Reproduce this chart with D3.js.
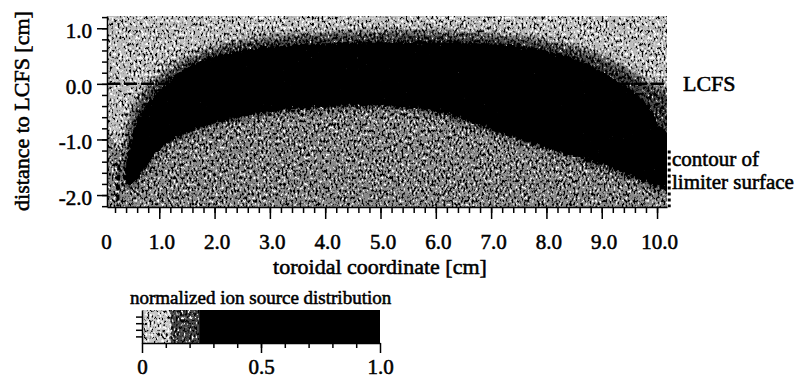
<!DOCTYPE html>
<html>
<head>
<meta charset="utf-8">
<script src="https://cdn.jsdelivr.net/npm/d3@7"></script>
<style>
  body { margin: 0; background: #fff; }
  text { font-family: "Liberation Serif", "Times New Roman", serif; fill: #000; stroke: #000; stroke-width: 0.55px; }
</style>
</head>
<body>
<svg id="chart" width="807" height="381"></svg>
<script>
// ---- data (toroidal coordinate [cm], distance to LCFS [cm]) ----
var xMajor = [0, 1, 2, 3, 4, 5, 6, 7, 8, 9, 10];
var xMinor = d3.range(1, 51).map(function (i) { return i * 0.2; });
var yMajor = [-2, -1, 0, 1];
var yMinor = d3.range(-11, 7).map(function (i) { return i * 0.2; });
var cbMajor = [0, 0.5, 1.0];
var cbMinor = d3.range(1, 10).map(function (i) { return i / 10; });

// colour levels of the ion source distribution (colorbar bins)
var cbLevels = [0, 0.12, 0.24, 1.0];

// region with the lower "mottled" level under the band
var lowerTop = [[0.0, -0.85], [0.3, -1.15], [0.55, -1.6], [1.05, -1.1], [1.65, -0.8], [2.55, -0.55],
  [3.45, -0.43], [4.4, -0.37], [5.2, -0.37], [6.1, -0.5], [7.0, -0.8], [7.9, -1.1], [8.8, -1.35],
  [9.6, -1.62], [10.4, -1.9]];

// halo (0.12 - 0.24) around the core
var haloTop = [[0.3, -1.6], [0.34, -1.1], [0.44, -0.62], [0.64, -0.2], [1.0, 0.18], [1.5, 0.5],
  [2.2, 0.74], [3.0, 0.87], [4.0, 0.94], [5.0, 0.97], [6.0, 0.97], [7.0, 0.92], [8.0, 0.8],
  [8.8, 0.6], [9.4, 0.33], [9.9, 0.02], [10.4, -0.25]];
var haloBottom = [[10.4, -2.1], [10.05, -1.95], [9.57, -1.76], [8.79, -1.48], [7.88, -1.2],
  [6.98, -0.9], [6.08, -0.6], [5.17, -0.48], [4.36, -0.48], [3.45, -0.54], [2.55, -0.66],
  [1.65, -0.9], [1.05, -1.22], [0.7, -1.7], [0.48, -1.92], [0.32, -1.85]];

// core (> 0.24)
var coreTop = [[0.36, -1.7], [0.4, -1.38], [0.47, -1.02], [0.58, -0.68], [0.8, -0.33], [1.34, 0.2],
  [1.95, 0.49], [2.86, 0.67], [4.05, 0.74], [5.0, 0.76], [6.08, 0.76], [7.0, 0.72], [7.58, 0.67],
  [8.48, 0.47], [9.28, 0.07], [9.82, -0.34], [10.05, -0.75], [10.4, -1.0]];
var coreBottom = [[10.4, -2.0], [10.05, -1.88], [9.57, -1.68], [8.79, -1.4], [7.88, -1.13],
  [6.98, -0.83], [6.08, -0.53], [5.17, -0.41], [4.36, -0.41], [3.45, -0.47], [2.55, -0.59],
  [1.65, -0.83], [1.05, -1.15], [0.8, -1.45], [0.6, -1.72], [0.46, -1.84], [0.38, -1.82]];

// LCFS and limiter contour
var lcfs = [[0.055, 0], [10.18, 0]];
var limiterLeft = [[0.27, -1.45], [0.25, -2.2]];
var limiterRight = [[10.22, -1.2], [10.22, -2.22]];

// ---- layout ----
var svg = d3.select("#chart");
var x = d3.scaleLinear().domain([0.055, 10.18]).range([107, 667]);
var y = d3.scaleLinear().domain([-2.215, 1.22]).range([207, 16]);
var cb = d3.scaleLinear().domain([0, 1]).range([142, 380]);

var defs = svg.append("defs");

function newFilter(id) {
  return defs.append("filter").attr("id", id)
    .attr("filterUnits", "userSpaceOnUse")
    .attr("x", 0).attr("y", 0).attr("width", 807).attr("height", 381)
    .attr("color-interpolation-filters", "sRGB");
}

// speckle like a scanned halftone: grey fill with black grains (noise > hi) and white grains (noise < lo)
function speckle(id, hi, lo, blur) {
  var f = newFilter(id);
  var src = "SourceGraphic";
  if (blur) {
    f.append("feGaussianBlur").attr("in", "SourceGraphic").attr("stdDeviation", blur).attr("result", "soft");
    src = "soft";
  }
  f.append("feTurbulence").attr("type", "fractalNoise")
    .attr("baseFrequency", "0.5 0.3").attr("numOctaves", 2).attr("seed", 7).attr("result", "noise");
  f.append("feColorMatrix").attr("in", "noise").attr("type", "matrix")
    .attr("values", "0 0 0 0 0  0 0 0 0 0  0 0 0 0 0  1 0 0 0 0").attr("result", "a");
  f.append("feComponentTransfer").attr("in", "a").attr("result", "blk")
    .append("feFuncA").attr("type", "linear").attr("slope", 7).attr("intercept", -7 * hi);
  f.append("feColorMatrix").attr("in", "noise").attr("type", "matrix")
    .attr("values", "0 0 0 0 1  0 0 0 0 1  0 0 0 0 1  -1 0 0 0 1").attr("result", "b");
  f.append("feComponentTransfer").attr("in", "b").attr("result", "wht")
    .append("feFuncA").attr("type", "linear").attr("slope", 7).attr("intercept", -7 * (1 - lo));
  var m = f.append("feMerge").attr("result", "all");
  m.append("feMergeNode").attr("in", src);
  m.append("feMergeNode").attr("in", "wht");
  m.append("feMergeNode").attr("in", "blk");
  f.append("feComposite").attr("in", "all").attr("in2", src).attr("operator", "in");
}
speckle("spLight", 0.56, 0.44, 0);
speckle("spLower", 0.52, 0.40, 0);
speckle("spHalo", 0.46, 0.34, 4);

// ragged black edge of the core
var rg = newFilter("ragged");
rg.append("feGaussianBlur").attr("in", "SourceAlpha").attr("stdDeviation", 2.5).attr("result", "ba");
rg.append("feTurbulence").attr("type", "fractalNoise")
  .attr("baseFrequency", "0.35 0.25").attr("numOctaves", 2).attr("seed", 3).attr("result", "noise");
rg.append("feColorMatrix").attr("in", "noise").attr("type", "matrix")
  .attr("values", "0 0 0 0 0  0 0 0 0 0  0 0 0 0 0  1 0 0 0 0").attr("result", "na");
rg.append("feComposite").attr("in", "ba").attr("in2", "na").attr("operator", "arithmetic")
  .attr("k1", 0).attr("k2", 1).attr("k3", 1.2).attr("k4", -0.6).attr("result", "s");
rg.append("feComponentTransfer").attr("in", "s")
  .append("feFuncA").attr("type", "linear").attr("slope", 8).attr("intercept", -4);

defs.append("clipPath").attr("id", "plotClip").append("rect")
  .attr("x", 107).attr("y", 16).attr("width", 560).attr("height", 191);

var line = d3.line().x(function (d) { return x(d[0]); }).y(function (d) { return y(d[1]); });
var loop = d3.line().x(function (d) { return x(d[0]); }).y(function (d) { return y(d[1]); })
  .curve(d3.curveCatmullRomClosed.alpha(0.5));
var lowerArea = d3.area().x(function (d) { return x(d[0]); }).y0(y(-2.3)).y1(function (d) { return y(d[1]); })
  .curve(d3.curveCatmullRom.alpha(0.5));

var plot = svg.append("g").attr("clip-path", "url(#plotClip)");
plot.append("rect").attr("x", 107).attr("y", 16).attr("width", 560).attr("height", 191)
  .attr("fill", "#bcbcbc").attr("filter", "url(#spLight)");
plot.append("path").attr("d", lowerArea(lowerTop)).attr("fill", "#8a8a8a").attr("filter", "url(#spLower)");
plot.append("path").attr("d", loop(haloTop.concat(haloBottom))).attr("fill", "#4a4a4a").attr("filter", "url(#spHalo)");
plot.append("path").attr("d", loop(coreTop.concat(coreBottom))).attr("fill", "#000").attr("filter", "url(#ragged)");

plot.append("path").attr("d", line(lcfs)).attr("fill", "none").attr("stroke", "#000")
  .attr("stroke-width", 2.5).attr("stroke-dasharray", "13 4");
svg.append("path").attr("d", line(limiterLeft)).attr("fill", "none").attr("stroke", "#000")
  .attr("stroke-width", 3).attr("stroke-dasharray", "6 4");
svg.append("path").attr("d", line(limiterRight)).attr("fill", "none").attr("stroke", "#000")
  .attr("stroke-width", 3).attr("stroke-dasharray", "3 3");

// ---- axes ----
function styleAxis(g) {
  g.selectAll("path, line").attr("stroke", "#000").attr("stroke-width", 1.5);
  g.selectAll("text").style("font-family", "Liberation Serif").style("font-size", "21px").attr("fill", "#000");
}
var gx = svg.append("g").attr("transform", "translate(0,207)")
  .call(d3.axisBottom(x).tickValues(xMinor).tickSize(6).tickSizeOuter(0).tickFormat(""));
gx.call(styleAxis);
var gx2 = svg.append("g").attr("transform", "translate(0,207)")
  .call(d3.axisBottom(x).tickValues(xMajor).tickSize(12).tickSizeOuter(0)
    .tickFormat(function (d) { return d === 0 ? "0" : d.toFixed(1); }));
gx2.call(styleAxis);
gx2.select(".domain").remove();
gx2.selectAll(".tick").filter(function (d) { return d === 0; }).select("line").remove();
gx2.selectAll(".tick text").attr("y", 27).attr("dy", "0.71em").attr("dx", 2);

var gy = svg.append("g").attr("transform", "translate(107,0)")
  .call(d3.axisLeft(y).tickValues(yMinor).tickSize(5).tickSizeOuter(0).tickFormat(""));
gy.call(styleAxis);
var gy2 = svg.append("g").attr("transform", "translate(107,0)")
  .call(d3.axisLeft(y).tickValues(yMajor).tickSize(10).tickSizeOuter(0)
    .tickFormat(function (d) { return d.toFixed(1); }));
gy2.call(styleAxis);
gy2.select(".domain").remove();
gy2.selectAll(".tick text").attr("x", -15).attr("dy", "0.45em");

svg.append("text").attr("transform", "translate(29,111) rotate(-90)").attr("text-anchor", "middle")
  .style("font-size", "22px").text("distance to LCFS [cm]");
svg.append("text").attr("x", 380).attr("y", 274).attr("text-anchor", "middle")
  .style("font-size", "22px").text("toroidal coordinate [cm]");
svg.append("text").attr("x", 683).attr("y", 91).style("font-size", "22px").text("LCFS");
svg.append("text").attr("x", 672).attr("y", 166).style("font-size", "21px").text("contour of");
svg.append("text").attr("x", 672).attr("y", 189).style("font-size", "21px").text("limiter surface");

// ---- colorbar ----
svg.append("text").attr("x", 130).attr("y", 304).style("font-size", "19px").text("normalized ion source distribution");
var cbFills = ["#c8c8c8", "#4a4a4a", "#000"];
var cbFilters = ["url(#spLight)", "url(#spLower)", null];
var bins = d3.pairs(cbLevels);
svg.append("g").selectAll("rect").data(bins).join("rect")
  .attr("x", function (d) { return cb(d[0]); })
  .attr("width", function (d) { return cb(d[1]) - cb(d[0]); })
  .attr("y", 310).attr("height", 33)
  .attr("fill", function (d, i) { return cbFills[i]; })
  .attr("filter", function (d, i) { return cbFilters[i]; });

var gc = svg.append("g").attr("transform", "translate(0,343)")
  .call(d3.axisBottom(cb).tickValues(cbMinor).tickSize(5).tickSizeOuter(0).tickFormat(""));
gc.call(styleAxis);
var gc2 = svg.append("g").attr("transform", "translate(0,343)")
  .call(d3.axisBottom(cb).tickValues(cbMajor).tickSize(10).tickSizeOuter(0)
    .tickFormat(function (d) { return d === 0 ? "0" : d.toFixed(1); }));
gc2.call(styleAxis);
gc2.select(".domain").remove();
gc2.selectAll(".tick text").attr("y", 16).attr("dy", "0.71em");

var cbY = d3.scaleLinear().domain([0, 1]).range([343, 310]);
var gcy = svg.append("g").attr("transform", "translate(142,0)")
  .call(d3.axisLeft(cbY).tickValues([0.2, 0.4, 0.6, 0.8]).tickSize(6).tickSizeOuter(0).tickFormat(""));
gcy.call(styleAxis);
</script>
</body>
</html>
